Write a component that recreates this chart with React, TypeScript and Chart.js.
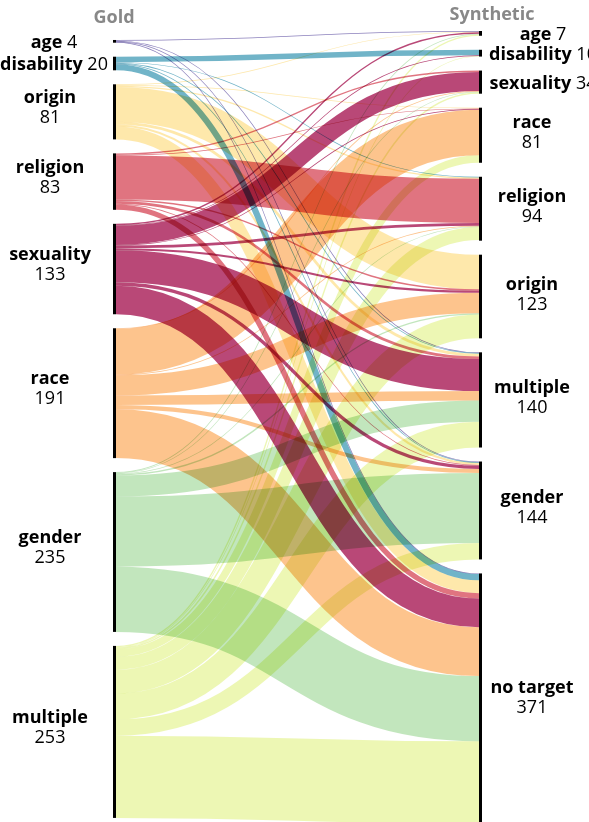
import React, { useEffect, useRef } from 'react';
import { Chart, registerables } from 'chart.js';

Chart.register(...registerables);

// left column (Gold)
const goldNodes = ['age', 'disability', 'origin', 'religion', 'sexuality', 'race', 'gender', 'multiple'];
const goldCounts = [4, 20, 81, 83, 133, 191, 235, 253];

// right column (Synthetic)
const synthNodes = ['age', 'disability', 'sexuality', 'race', 'religion', 'origin', 'multiple', 'gender', 'no target'];
const synthCounts = [7, 10, 34, 81, 94, 123, 140, 144, 371];

// flows from each gold label, one value per synthetic label (same order as synthNodes)
const fromAge = [1, 0, 0, 0, 0, 0, 1, 1, 1];
const fromDisability = [0, 8, 0, 0, 1, 0, 1, 1, 9];
const fromOrigin = [1, 0, 0, 1, 2, 51, 4, 3, 19];
const fromReligion = [0, 0, 2, 1, 65, 2, 4, 1, 8];
const fromSexuality = [2, 1, 28, 1, 4, 3, 47, 5, 42];
const fromRace = [0, 0, 1, 67, 1, 30, 14, 6, 72];
const fromGender = [1, 0, 1, 0, 1, 2, 31, 103, 96];
const fromMultiple = [2, 1, 2, 11, 19, 35, 38, 24, 121];
const flows = [fromAge, fromDisability, fromOrigin, fromReligion, fromSexuality, fromRace, fromGender, fromMultiple];

const colors: Record<string, string> = {
  age: '#5e4fa2',
  disability: '#3a97b3',
  origin: '#fee08b',
  religion: '#d53e4f',
  sexuality: '#9e0142',
  race: '#fdae61',
  gender: '#abdda4',
  multiple: '#e6f598',
};

// layout (scale units: y in counts, x in px-like units)
const Y_MAX = 1209;
const NODE_GAP = 20.6;
const LEFT_TOP = 58.8;
const RIGHT_TOP = 45.6;
const LEFT_X = [113, 116];
const RIGHT_X = [479, 482];
const FONT = '"Open Sans", "Noto Sans", sans-serif';

const stack = (counts: number[], top: number) => {
  let y = top;
  return counts.map((c) => {
    const y0 = y;
    y += c + NODE_GAP;
    return [y0, y0 + c];
  });
};

const sankeyPlugin = {
  id: 'sankey',
  beforeDraw(chart: any) {
    const { ctx, width, height } = chart;
    ctx.save();
    ctx.fillStyle = '#fff';
    ctx.fillRect(0, 0, width, height);
    ctx.restore();
  },
  afterDatasetsDraw(chart: any) {
    const { ctx } = chart;
    const xs = chart.scales.x;
    const ys = chart.scales.y;
    const px = (v: number) => xs.getPixelForValue(v);
    const py = (v: number) => ys.getPixelForValue(v);
    const ky = Math.abs(py(1) - py(0));

    const left = stack(goldCounts, LEFT_TOP);
    const right = stack(synthCounts, RIGHT_TOP);
    const outOff = left.map((n) => n[0]);
    const inOff = right.map((n) => n[0]);

    // links, blended with multiply so crossings darken
    ctx.save();
    ctx.globalCompositeOperation = 'multiply';
    ctx.globalAlpha = 0.72;
    const xa = px(LEFT_X[1]);
    const xb = px(RIGHT_X[0]);
    const xm = (xa + xb) / 2;
    flows.forEach((row, i) => {
      row.forEach((v, j) => {
        if (!v) return;
        const y0 = py(outOff[i] + v / 2);
        const y1 = py(inOff[j] + v / 2);
        outOff[i] += v;
        inOff[j] += v;
        ctx.strokeStyle = colors[goldNodes[i]];
        ctx.lineWidth = v * ky;
        ctx.beginPath();
        ctx.moveTo(xa, y0);
        ctx.bezierCurveTo(xm, y0, xm, y1, xb, y1);
        ctx.stroke();
      });
    });
    ctx.restore();

    // nodes
    ctx.save();
    ctx.fillStyle = '#000';
    left.forEach(([a, b]) => {
      ctx.fillRect(px(LEFT_X[0]), py(a), px(LEFT_X[1]) - px(LEFT_X[0]), py(b) - py(a));
    });
    right.forEach(([a, b]) => {
      ctx.fillRect(px(RIGHT_X[0]), py(a), px(RIGHT_X[1]) - px(RIGHT_X[0]), py(b) - py(a));
    });

    // labels
    const bold = `bold 18px ${FONT}`;
    const reg = `18px ${FONT}`;
    const label = (name: string, count: number, [a, b]: number[], cx: number, cxSingle: number, d1: number, d2: number) => {
      const c = (py(a) + py(b)) / 2;
      if (count < 50) {
        ctx.font = bold;
        const w1 = ctx.measureText(name).width;
        ctx.font = reg;
        const w2 = ctx.measureText(' ' + count).width;
        const x0 = px(cxSingle) - (w1 + w2) / 2;
        ctx.textAlign = 'left';
        ctx.font = bold;
        ctx.fillText(name, x0, c + 6.5);
        ctx.font = reg;
        ctx.fillText(' ' + count, x0 + w1, c + 6.5);
      } else {
        ctx.textAlign = 'center';
        ctx.font = bold;
        ctx.fillText(name, px(cx), c + d1);
        ctx.font = reg;
        ctx.fillText(String(count), px(cx), c + d2);
      }
    };
    ctx.fillStyle = '#000';
    ctx.textBaseline = 'alphabetic';
    goldNodes.forEach((n, i) => label(n, goldCounts[i], left[i], 50, 54, -9, 11));
    synthNodes.forEach((n, i) => label(n, synthCounts[i], right[i], 532, 543, -7, 13));

    // column titles
    ctx.fillStyle = '#888';
    ctx.font = `bold 18px ${FONT}`;
    ctx.textAlign = 'center';
    ctx.fillText('Gold', px(114), 23);
    ctx.fillText('Synthetic', px(492), 20);
    ctx.restore();
  },
};

const App: React.FC = () => {
  const canvasRef = useRef<HTMLCanvasElement>(null);
  const chartRef = useRef<Chart | null>(null);

  useEffect(() => {
    document.body.style.margin = '0';
    if (!canvasRef.current) return;
    if (chartRef.current) chartRef.current.destroy();
    chartRef.current = new Chart(canvasRef.current, {
      type: 'scatter',
      data: { datasets: [] },
      options: {
        animation: false,
        responsive: true,
        maintainAspectRatio: false,
        layout: { padding: 0 },
        plugins: { legend: { display: false }, tooltip: { enabled: false } },
        scales: {
          x: { type: 'linear', min: 0, max: 589, display: false },
          y: { type: 'linear', min: 0, max: Y_MAX, reverse: true, display: false },
        },
      },
      plugins: [sankeyPlugin],
    });
    return () => {
      if (chartRef.current) {
        chartRef.current.destroy();
        chartRef.current = null;
      }
    };
  }, []);

  return (
    <div style={{ position: 'relative', width: 589, height: 822 }}>
      <canvas ref={canvasRef}></canvas>
    </div>
  );
};

export default App;
